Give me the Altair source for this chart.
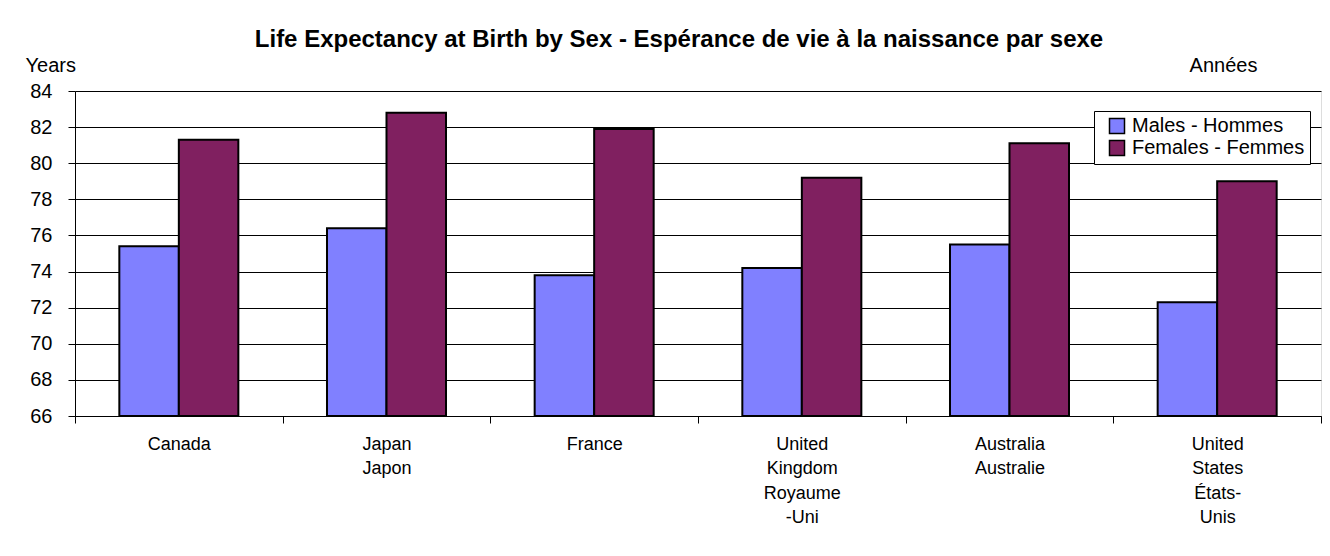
import altair as alt
import pandas as pd

countries = ["Canada", "Japan|Japon", "France", "United|Kingdom|Royaume|-Uni",
             "Australia|Australie", "United|States|États-|Unis"]
series = ["Males - Hommes", "Females - Femmes"]
males = [75.4, 76.4, 73.8, 74.2, 75.5, 72.3]
females = [81.3, 82.8, 81.9, 79.2, 81.1, 79.0]
y_ticks = [66, 68, 70, 72, 74, 76, 78, 80, 82, 84]
y_base = 66
colors = ["#8080FF", "#802060"]

rows = []
for c, m, f in zip(countries, males, females):
    rows.append({"country": c, "sex": series[0], "value": m})
    rows.append({"country": c, "sex": series[1], "value": f})
df = pd.DataFrame(rows)

FONT = "Liberation Sans"

chart = alt.Chart(df).mark_bar(stroke="black", strokeWidth=2).encode(
    x=alt.X("country:N", sort=countries,
            scale=alt.Scale(paddingInner=0, paddingOuter=0),
            axis=alt.Axis(
                title="Années", titleX=1148, titleY=-344.3, titleAngle=0,
                titleAlign="center", titleBaseline="alphabetic",
                titleFontSize=20, titleFontWeight="normal", titleFont=FONT,
                titleColor="black",
                labelExpr="split(datum.label, '|')", labelAngle=0,
                labelFontSize=18, labelFont=FONT, labelColor="black",
                labelLineHeight=24.5, labelBaseline="alphabetic",
                labelPadding=26, labelAlign="center", labelOverlap=False,
                tickBand="extent", tickSize=7, tickColor="black",
                domainColor="black", grid=False)),
    xOffset=alt.XOffset("sex:N", sort=series,
                        scale=alt.Scale(paddingInner=0, paddingOuter=0.745)),
    y=alt.Y("value:Q", scale=alt.Scale(domain=[66, 84], nice=False, zero=False),
            axis=alt.Axis(
                values=y_ticks, title="Years", titleX=-50, titleY=-19.5,
                titleAngle=0, titleAlign="left", titleBaseline="alphabetic",
                titleFontSize=20, titleFontWeight="normal", titleFont=FONT,
                titleColor="black",
                labelFontSize=20, labelFont=FONT, labelColor="black",
                labelPadding=16, tickSize=7, tickColor="black",
                domainColor="black", gridColor="black", gridOpacity=1,
                gridWidth=1)),
    y2=alt.datum(y_base),
    color=alt.Color("sex:N", sort=series,
                    scale=alt.Scale(domain=series, range=colors),
                    legend=alt.Legend(
                        title=None, orient="none", legendX=1019, legendY=20,
                        fillColor="white", strokeColor="black", padding=5,
                        symbolType="square", symbolSize=225,
                        symbolStrokeColor="black", symbolStrokeWidth=1.5,
                        symbolOffset=8, labelOffset=5, rowPadding=0,
                        labelLimit=400,
                        labelFontSize=20, labelFont=FONT, labelColor="black")),
).properties(
    width=1246, height=325,
    title=alt.TitleParams(
        "Life Expectancy at Birth by Sex - Espérance de vie à la naissance par sexe",
        font=FONT, fontSize=24, fontWeight="bold", color="black",
        anchor="middle", dx=-19),
    autosize=alt.AutoSizeParams(type="none"),
    padding={"left": 67, "top": 83, "right": 1, "bottom": 120},
).configure_view(
    fill="#E0E0E0", stroke="black", strokeWidth=1
).configure(background="white")

chart.save("out.html", embed_options={"renderer": "svg", "actions": False})
